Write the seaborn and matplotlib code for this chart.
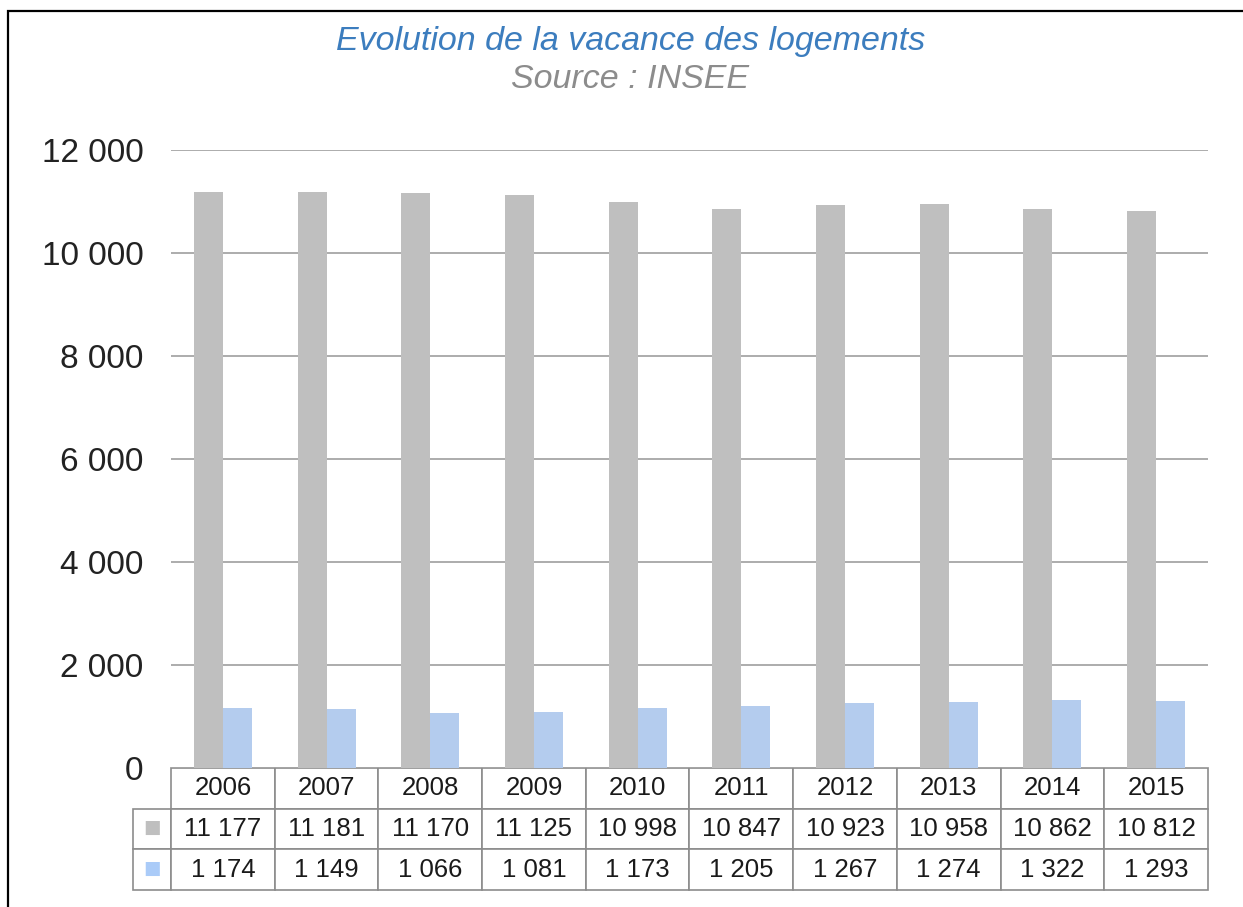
import pandas as pd
import matplotlib.pyplot as plt
import seaborn as sns
from matplotlib.patches import Rectangle
from matplotlib.ticker import FuncFormatter

# Données (source INSEE)
annees = ['2006', '2007', '2008', '2009', '2010', '2011', '2012', '2013', '2014', '2015']
logements = [11177, 11181, 11170, 11125, 10998, 10847, 10923, 10958, 10862, 10812]
vacants = [1174, 1149, 1066, 1081, 1173, 1205, 1267, 1274, 1322, 1293]
series = ['logements', 'vacants']
couleurs = ['#BFBFBF', '#AACBF8']

df = pd.DataFrame({
    'annee': annees * 2,
    'serie': [series[0]] * len(annees) + [series[1]] * len(annees),
    'valeur': logements + vacants,
})


def fr(v):
    return f"{int(v):,}".replace(',', ' ')


sns.set_style('white')
plt.rcParams['font.family'] = ['Liberation Sans', 'DejaVu Sans']

fig = plt.figure(figsize=(12.43, 9.07), dpi=100)
ax = fig.add_axes([0.1376, 0.1532, 0.8342, 0.6814])

sns.barplot(data=df, x='annee', y='valeur', hue='serie', palette=couleurs,
            width=0.56, linewidth=0, legend=False, ax=ax, zorder=3)

ax.set_ylim(0, 12000)
ax.set_yticks(range(0, 12001, 2000))
ax.yaxis.set_major_formatter(FuncFormatter(lambda v, p: fr(v)))
ax.tick_params(axis='y', length=0, pad=20, labelsize=24, labelcolor='#222222')
ax.set_xticks(range(len(annees)))
ax.set_xticklabels([])
ax.tick_params(axis='x', length=0)
ax.set_xlabel('')
ax.set_ylabel('')
ax.grid(axis='y', color='#A6A6A6', linewidth=1.3, zorder=0)
ax.grid(axis='x', visible=False)
for s in ax.spines.values():
    s.set_visible(False)

# Table de données sous le graphique
cell_text = [[fr(v) for v in logements], [fr(v) for v in vacants]]
table = ax.table(cellText=cell_text, rowLabels=['■', '■'], colLabels=annees,
                 colWidths=[0.1] * len(annees),
                 rowLoc='center', cellLoc='center',
                 bbox=[0, -0.1974, 1, 0.1974])
table.auto_set_font_size(False)
table._autoColumns = []
for (r, c), cell in table.get_celld().items():
    cell.set_edgecolor('#8C8C8C')
    cell.set_linewidth(1.2)
    cell.get_text().set_fontsize(18.5)
    cell.get_text().set_color('#1A1A1A')
    if c == -1:
        cell.set_width(0.0366)
        cell.get_text().set_color(couleurs[r - 1])
        cell.get_text().set_fontsize(21)

# Titres
fig.text(0.507, 0.954, 'Evolution de la vacance des logements', ha='center', va='center',
         fontsize=24.5, style='italic', color='#3C7DBE')
fig.text(0.507, 0.912, 'Source : INSEE', ha='center', va='center',
         fontsize=24.5, style='italic', color='#8C8C8C')

# Cadre
fig.patches.append(Rectangle((8 / 1243, -0.02), 1.05, 0.9879 + 0.02,
                             transform=fig.transFigure, fill=False,
                             edgecolor='black', linewidth=1.6))

fig.savefig('out.png', dpi=100)
